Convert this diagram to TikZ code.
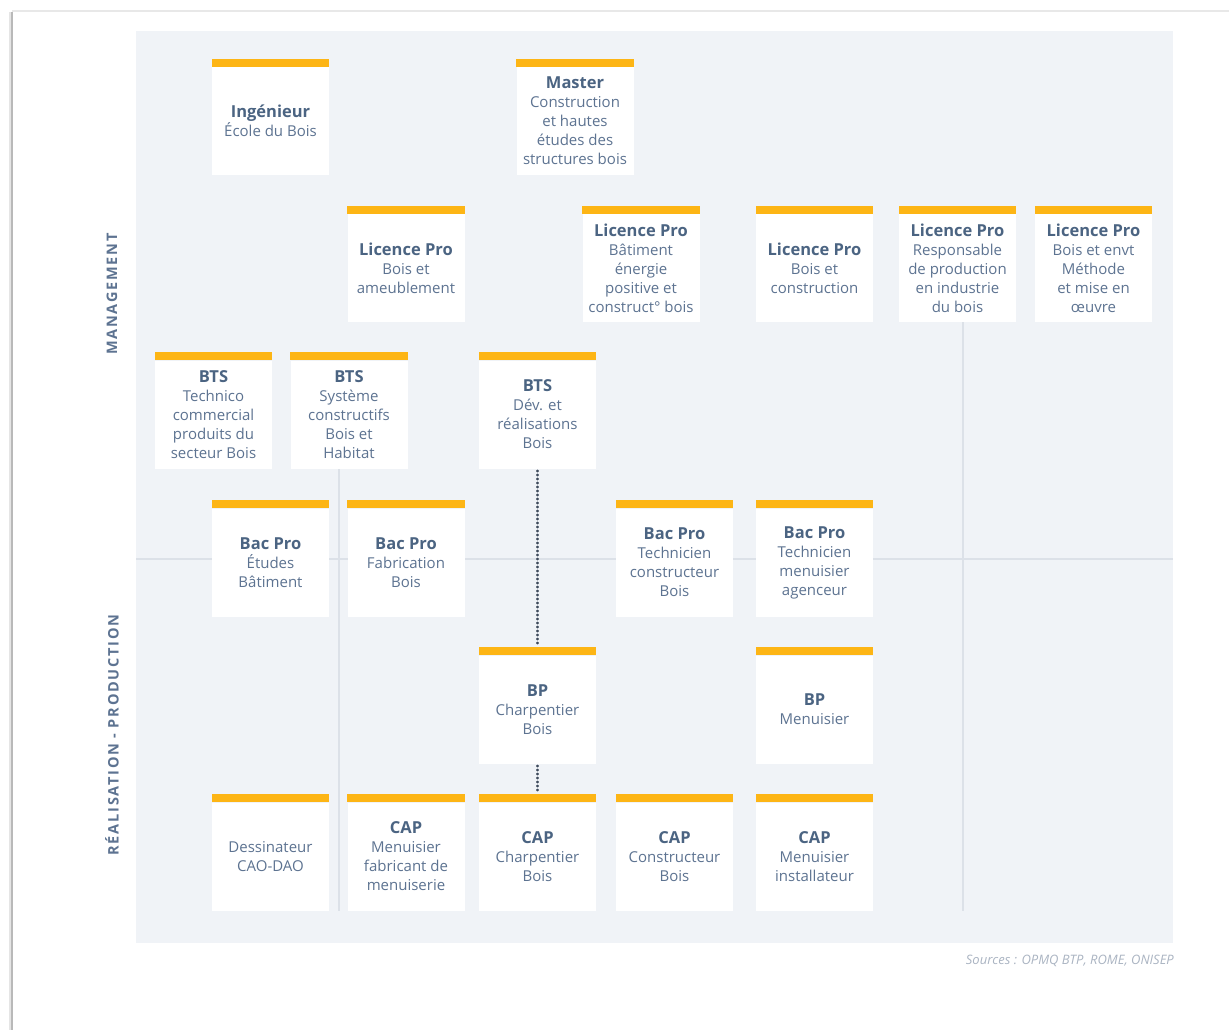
\documentclass[tikz,border=0pt]{standalone}
\usepackage{fontspec}
\setmainfont{Open Sans}
\newfontfamily\axisfont[LetterSpace=12]{Open Sans}
\usetikzlibrary{backgrounds}
\definecolor{panelc}{HTML}{F0F3F7}
\definecolor{linec}{HTML}{DCE1E8}
\definecolor{barc}{HTML}{FDB515}
\definecolor{titlec}{HTML}{4B6482}
\definecolor{bodyc}{HTML}{5D7391}
\definecolor{dotc}{HTML}{3E4A5C}
\definecolor{srcc}{HTML}{AAB4C2}
\newcommand{\ttl}[1]{{\fontsize{16.5}{19}\selectfont\bfseries\color{titlec}#1}}
\begin{document}
\begin{tikzpicture}[x=1pt,y=-1pt,
  card/.style={fill=white, minimum width=117pt, minimum height=108pt, inner sep=0pt,
    align=center, text=bodyc, font=\fontsize{15}{19}\selectfont},
  guide/.style={draw=linec, line width=1.6pt},
  dots/.style={draw=dotc, line width=2.3pt, line cap=round, dash pattern=on 0.6pt off 3.4pt},
  axis/.style={rotate=90, text=bodyc, font=\axisfont\fontsize{14.5}{17}\selectfont\bfseries}]
\useasboundingbox (0,0) rectangle (1229,1030);

% cards (white area; yellow bar added above)
\node[card] (ing)  at (270.5,121) {\ttl{Ingénieur}\\École du Bois};
\node[card] (mas)  at (575,121) {\ttl{Master}\\Construction\\et hautes\\études des\\structures bois};
\node[card] (lp1)  at (406,268) {\ttl{Licence Pro}\\Bois et\\ameublement};
\node[card] (lp2)  at (641,268) {\ttl{Licence Pro}\\Bâtiment\\énergie\\positive et\\construct° bois};
\node[card] (lp3)  at (814.5,268) {\ttl{Licence Pro}\\Bois et\\construction};
\node[card] (lp4)  at (957.5,268) {\ttl{Licence Pro}\\Responsable\\de production\\en industrie\\du bois};
\node[card] (lp5)  at (1093.5,268) {\ttl{Licence Pro}\\Bois et envt\\Méthode\\et mise en\\œuvre};
\node[card] (bts1) at (213.5,414.5) {\ttl{BTS}\\Technico\\commercial\\produits du\\secteur Bois};
\node[card] (bts2) at (349,414.5) {\ttl{BTS}\\Système\\constructifs\\Bois et\\Habitat};
\node[card] (bts3) at (537.5,414.5) {\ttl{BTS}\\Dév. et\\réalisations\\Bois};
\node[card] (bac1) at (270.5,562.5) {\ttl{Bac Pro}\\Études\\Bâtiment};
\node[card] (bac2) at (406,562.5) {\ttl{Bac Pro}\\Fabrication\\Bois};
\node[card] (bac3) at (674.5,562.5) {\ttl{Bac Pro}\\Technicien\\constructeur\\Bois};
\node[card] (bac4) at (814.5,562.5) {\ttl{Bac Pro}\\Technicien\\menuisier\\agenceur};
\node[card] (bp1)  at (537.5,709.5) {\ttl{BP}\\Charpentier\\Bois};
\node[card] (bp2)  at (814.5,709.5) {\ttl{BP}\\Menuisier};
\node[card] (cap1) at (270.5,856.5) {Dessinateur\\CAO-DAO};
\node[card] (cap2) at (406,856.5) {\ttl{CAP}\\Menuisier\\fabricant de\\menuiserie};
\node[card] (cap3) at (537.5,856.5) {\ttl{CAP}\\Charpentier\\Bois};
\node[card] (cap4) at (674.5,856.5) {\ttl{CAP}\\Constructeur\\Bois};
\node[card] (cap5) at (814.5,856.5) {\ttl{CAP}\\Menuisier\\installateur};

\foreach \n in {ing,mas,lp1,lp2,lp3,lp4,lp5,bts1,bts2,bts3,bac1,bac2,bac3,bac4,bp1,bp2,cap1,cap2,cap3,cap4,cap5}
  \fill[barc] (\n.north west) rectangle ([yshift=8pt]\n.north east);

% page, background panel and guide lines
\coordinate (dl) at (136,559);
\coordinate (dr) at (1173,559);
\coordinate (v1) at (339,0);
\coordinate (v2) at (963,0);
\begin{scope}[on background layer]
  \fill[white] (12,12) rectangle (1229,1030);
  \draw[draw=gray!18, line width=1.5pt] (12,11) -- (1229,11);
  \draw[draw=gray!55, line width=2pt] (11.5,12) -- (11.5,1030);
  \draw[draw=gray!20, line width=2pt] (9.5,12) -- (9.5,1030);
  \fill[panelc] (136,31) rectangle (1173,943);
  \draw[guide] (dl) -- (dr);
  \draw[guide] (bts2.south -| v1) -- (cap2.south -| v1);
  \draw[guide] (lp4.south -| v2) -- (cap5.south -| v2);
  \draw[dots] ([yshift=-2pt]bts3.south) -- ([yshift=9pt]bp1.north);
  \draw[dots] ([yshift=-2pt]bp1.south) -- ([yshift=9pt]cap3.north);
\end{scope}

% axis labels
\node[axis] (mgmt) at (112,294) {MANAGEMENT};
\node[axis] (prod) at (112,735) {RÉALISATION - PRODUCTION};

% sources
\node[anchor=base east, text=srcc, font=\fontsize{13}{15}\selectfont\itshape, inner sep=0pt] (src) at (1174,964) {Sources : OPMQ BTP, ROME, ONISEP};
\end{tikzpicture}
\end{document}
